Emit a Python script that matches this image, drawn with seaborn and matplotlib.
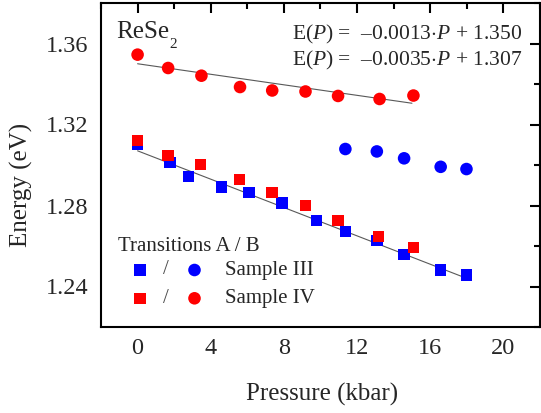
import matplotlib
matplotlib.use("Agg")
import matplotlib.pyplot as plt
import seaborn as sns
import numpy as np
import pandas as pd

# ---- data ----
p_III = [0.0, 1.78, 2.78, 4.60, 6.09, 7.90, 9.78, 11.36, 13.08, 14.57, 16.57, 17.98]
eA_III = [1.3100, 1.3011, 1.2944, 1.2892, 1.2864, 1.2812, 1.2726, 1.2671, 1.2626, 1.2557, 1.2481, 1.2456]
pB_III = [11.36, 13.08, 14.57, 16.57, 17.98]
eB_III = [1.3079, 1.3067, 1.3033, 1.2991, 1.2980]

p_IV = [0.0, 1.67, 3.45, 5.58, 7.36, 9.18, 10.96, 13.17, 15.08]
eA_IV = [1.3122, 1.3046, 1.3003, 1.2928, 1.2864, 1.2800, 1.2726, 1.2646, 1.2593]
pB_IV = [0.0, 1.67, 3.49, 5.60, 7.36, 9.18, 10.96, 13.23, 15.08]
eB_IV = [1.3545, 1.3479, 1.3441, 1.3385, 1.3368, 1.3363, 1.3341, 1.3326, 1.3343]

fit_slopes = [-0.0013, -0.0035]
fit_intercepts = [1.350, 1.307]
fit_pmax = [15.0, 18.0]

x_ticks = [0, 4, 8, 12, 16, 20]
y_ticks = [1.24, 1.28, 1.32, 1.36]

sns.set_style("white")
plt.rcParams['font.family'] = ['Liberation Serif', 'DejaVu Serif']
plt.rcParams['mathtext.fontset'] = 'custom'
plt.rcParams['mathtext.rm'] = 'Liberation Serif'
plt.rcParams['mathtext.it'] = 'Liberation Serif:italic'

fig = plt.figure(figsize=(5.41, 4.13), dpi=100)
ax = fig.add_axes([101/541, 1 - 327/413, 439/541, 324/413])

# fit lines
for m, b, pm in zip(fit_slopes, fit_intercepts, fit_pmax):
    fp = np.array([0.0, pm])
    sns.lineplot(x=fp, y=m * fp + b, ax=ax, color='0.35', lw=0.8, zorder=1)

blue = '#0000ff'
red = '#ff0000'
sq = 68
ci = 82
sns.scatterplot(x=p_III, y=eA_III, ax=ax, marker='s', s=sq, color=blue, edgecolor='none', zorder=3)
sns.scatterplot(x=p_IV, y=eA_IV, ax=ax, marker='s', s=sq, color=red, edgecolor='none', zorder=3)
sns.scatterplot(x=pB_III, y=eB_III, ax=ax, marker='o', s=ci, color=blue, edgecolor='none', zorder=3)
sns.scatterplot(x=pB_IV, y=eB_IV, ax=ax, marker='o', s=ci, color=red, edgecolor='none', zorder=3)

ax.set_xlim(-2, 22)
ax.set_ylim(1.22, 1.38)
ax.set_xticks(x_ticks)
ax.set_yticks(y_ticks)
ax.set_xticks(np.arange(-2, 23, 4), minor=True)
ax.set_yticks([1.22, 1.26, 1.30, 1.34, 1.38], minor=True)
ax.set_xticklabels([str(t) for t in x_ticks])
ax.set_yticklabels([f"{t:.2f}" for t in y_ticks])
ax.tick_params(which='both', direction='in', top=True, right=True, width=1.5, color='black')
ax.tick_params(which='major', length=7.2)
ax.tick_params(which='minor', length=4)
ax.tick_params(axis='x', which='major', labelsize=17.5, pad=8)
ax.tick_params(axis='y', which='major', labelsize=17.5, pad=9)
for s in ax.spines.values():
    s.set_linewidth(1.5)
    s.set_color('black')

ax.set_xlabel("Pressure (kbar)", fontsize=18)
ax.set_ylabel("Energy (eV)", fontsize=18)
ax.xaxis.label.set_va('center')
ax.yaxis.label.set_va('center')
ax.xaxis.set_label_coords(0.5027, -0.209)
ax.yaxis.set_label_coords(-0.1806, 0.438)

# annotations
tr = ax.transAxes
def axx(px):
    return (px - 101) / 439
def axy(py):
    return (327 - py) / 324

ax.text(axx(116), axy(38.3), "ReSe", fontsize=18, ha='left', va='baseline', transform=tr)
ax.text(axx(169), axy(47.5), "2", fontsize=11, ha='left', va='baseline', transform=tr)
ax.text(axx(522), axy(39.5), r"E($P$) =  –0.0013$\cdot P$ + 1.350", fontsize=15.5, ha='right', va='baseline', transform=tr)
ax.text(axx(522), axy(65.5), r"E($P$) =  –0.0035$\cdot P$ + 1.307", fontsize=15.5, ha='right', va='baseline', transform=tr)

# custom legend
ax.text(axx(118), axy(250.7), "Transitions A / B", fontsize=15, ha='left', va='baseline', transform=tr)
for row_y, col, lab in [(270, blue, "Sample III"), (298.3, red, "Sample IV")]:
    ax.scatter([axx(140)], [axy(row_y)], marker='s', s=sq, color=col, edgecolor='none', transform=tr, clip_on=False)
    ax.scatter([axx(194.5)], [axy(row_y)], marker='o', s=ci, color=col, edgecolor='none', transform=tr, clip_on=False)
    ax.text(axx(166), axy(row_y), "/", fontsize=15, ha='center', va='center', transform=tr, color='0.3')
    ax.text(axx(225), axy(row_y), lab, fontsize=15, ha='left', va='center', transform=tr)

fig.savefig("out.png", dpi=100)
